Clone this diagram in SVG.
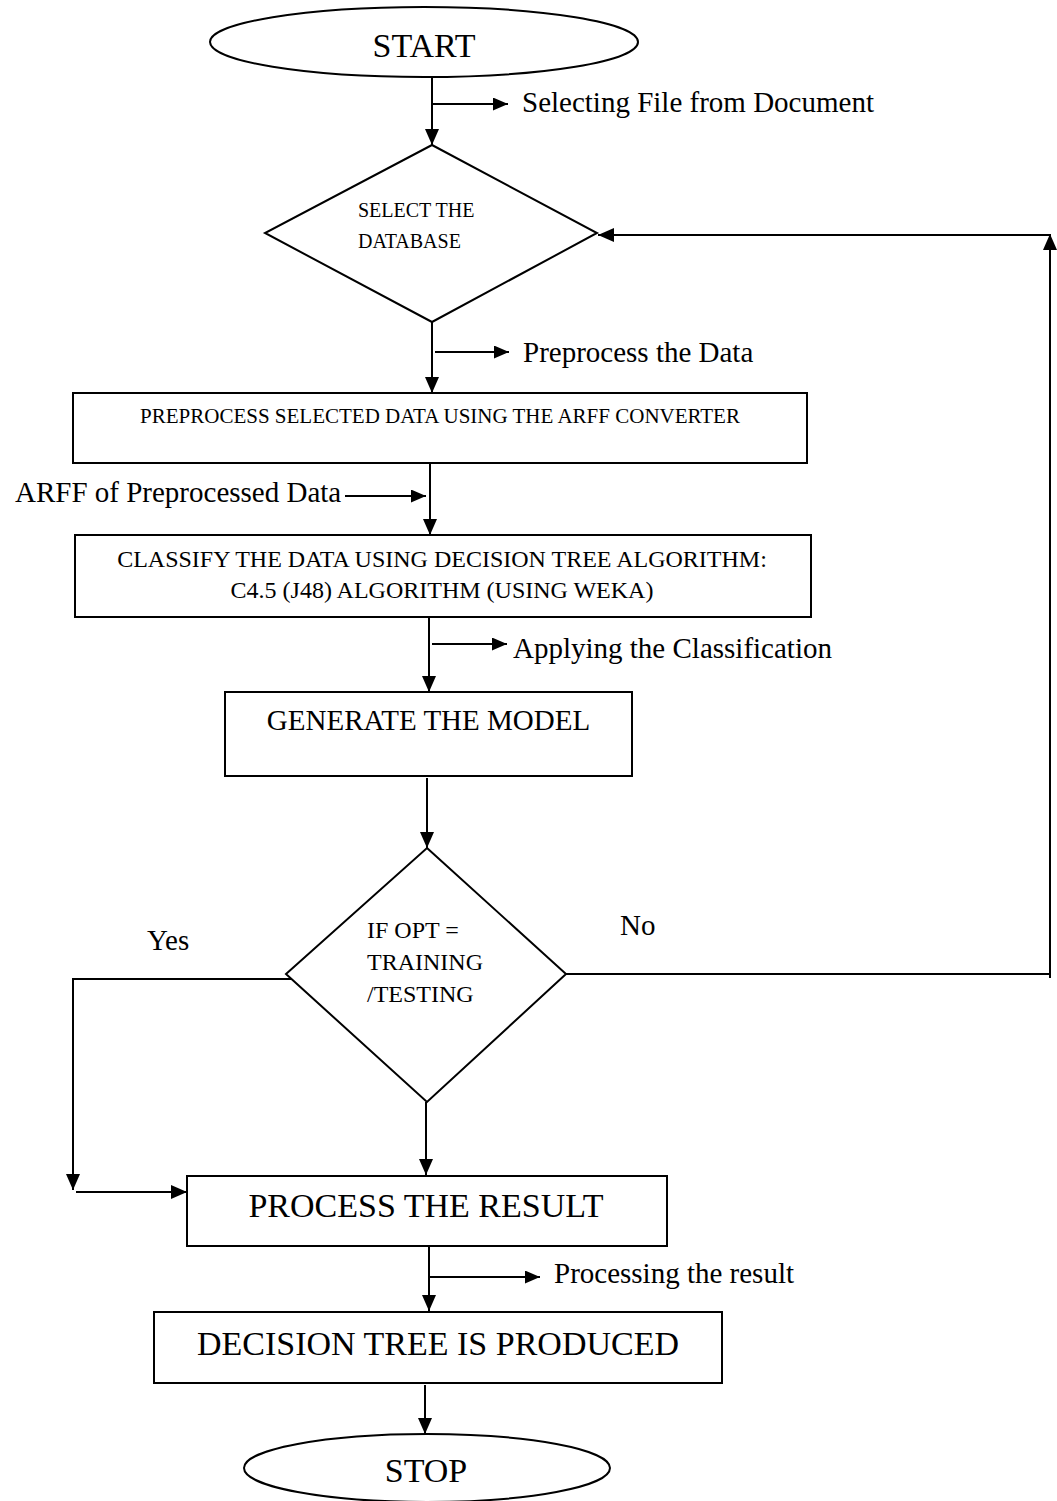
<svg xmlns="http://www.w3.org/2000/svg" width="1057" height="1501" viewBox="0 0 1057 1501">
  <defs>
    <marker id="arrow" markerUnits="userSpaceOnUse" markerWidth="16" markerHeight="14" refX="16" refY="7" orient="auto">
      <path d="M0,0 L16,7 L0,14 z" fill="#000"/>
    </marker>
    <marker id="arrowSmall" markerUnits="userSpaceOnUse" markerWidth="15" markerHeight="13" refX="15" refY="6.5" orient="auto">
      <path d="M0,0 L15,6.5 L0,13 z" fill="#000"/>
    </marker>
  </defs>
  <style>
    .shape { fill: #fff; stroke: #000; stroke-width: 2; }
    .line { fill: none; stroke: #000; stroke-width: 2; }
    .main { marker-end: url(#arrow); }
    .side { marker-end: url(#arrowSmall); }
    text { font-family: "Liberation Serif", "Times New Roman", serif; fill: #000; }
    .label { font-size: 29px; }
    .mid { text-anchor: middle; }
  </style>

  <rect x="0" y="0" width="1057" height="1501" fill="#fff"/>

  <!-- connectors -->
  <g id="connectors">
    <line class="line main" x1="432" y1="77" x2="432" y2="145"/>
    <line class="line side" x1="433" y1="104" x2="508" y2="104"/>
    <line class="line main" x1="432" y1="322" x2="432" y2="393"/>
    <line class="line side" x1="435" y1="352" x2="509" y2="352"/>
    <line class="line main" x1="430" y1="463" x2="430" y2="535"/>
    <line class="line side" x1="345" y1="496" x2="426" y2="496"/>
    <line class="line main" x1="429" y1="617" x2="429" y2="692"/>
    <line class="line side" x1="432" y1="644" x2="507" y2="644"/>
    <line class="line main" x1="427" y1="778" x2="427" y2="848"/>
    <!-- No branch: back up to the database selection -->
    <polyline class="line" points="566,974 1050,974"/>
    <line class="line main" x1="1050" y1="978" x2="1050" y2="234"/>
    <line class="line main" x1="1050" y1="235" x2="598" y2="235"/>
    <!-- Yes branch -->
    <polyline class="line main" points="303,979 73,979 73,1190"/>
    <line class="line main" x1="76" y1="1192" x2="187" y2="1192"/>
    <line class="line main" x1="426" y1="1102" x2="426" y2="1175"/>
    <line class="line main" x1="429" y1="1246" x2="429" y2="1311"/>
    <line class="line side" x1="430" y1="1277" x2="540" y2="1277"/>
    <line class="line main" x1="425" y1="1385" x2="425" y2="1434"/>
  </g>

  <!-- edge labels -->
  <g id="labels">
    <text class="label" x="522" y="112">Selecting File from Document</text>
    <text class="label" x="523" y="362">Preprocess the Data</text>
    <text class="label" x="15" y="502">ARFF of Preprocessed Data</text>
    <text class="label" x="513" y="658">Applying the Classification</text>
    <text class="label" x="620" y="935">No</text>
    <text class="label" x="147" y="950">Yes</text>
    <text class="label" x="554" y="1283">Processing the result</text>
  </g>

  <g id="start">
    <ellipse class="shape" cx="424" cy="42" rx="214" ry="35"/>
    <text class="mid" x="424" y="57" font-size="34">START</text>
  </g>

  <g id="select-database">
    <polygon class="shape" points="432,145 597,233 432,322 265,233"/>
    <text x="358" y="217" font-size="20">SELECT THE</text>
    <text x="358" y="248" font-size="20">DATABASE</text>
  </g>

  <g id="preprocess">
    <rect class="shape" x="73" y="393" width="734" height="70"/>
    <text class="mid" x="440" y="423" font-size="21">PREPROCESS SELECTED DATA USING THE ARFF CONVERTER</text>
  </g>

  <g id="classify">
    <rect class="shape" x="75" y="535" width="736" height="82"/>
    <text class="mid" x="442" y="567" font-size="24">CLASSIFY THE DATA USING DECISION TREE ALGORITHM:</text>
    <text class="mid" x="442" y="598" font-size="24">C4.5 (J48) ALGORITHM (USING WEKA)</text>
  </g>

  <g id="generate-model">
    <rect class="shape" x="225" y="692" width="407" height="84"/>
    <text class="mid" x="428.5" y="730" font-size="29">GENERATE THE MODEL</text>
  </g>

  <g id="decision-opt">
    <polygon class="shape" points="427,848 566,974 427,1102 286,974"/>
    <text x="367" y="938" font-size="24">IF OPT =</text>
    <text x="367" y="970" font-size="24">TRAINING</text>
    <text x="367" y="1002" font-size="24">/TESTING</text>
  </g>

  <g id="process-result">
    <rect class="shape" x="187" y="1176" width="480" height="70"/>
    <text class="mid" x="426" y="1217" font-size="34">PROCESS THE RESULT</text>
  </g>

  <g id="tree-produced">
    <rect class="shape" x="154" y="1312" width="568" height="71"/>
    <text class="mid" x="438" y="1355" font-size="34">DECISION TREE IS PRODUCED</text>
  </g>

  <g id="stop">
    <ellipse class="shape" cx="427" cy="1468" rx="183" ry="34"/>
    <text class="mid" x="426" y="1482" font-size="34">STOP</text>
  </g>
</svg>
